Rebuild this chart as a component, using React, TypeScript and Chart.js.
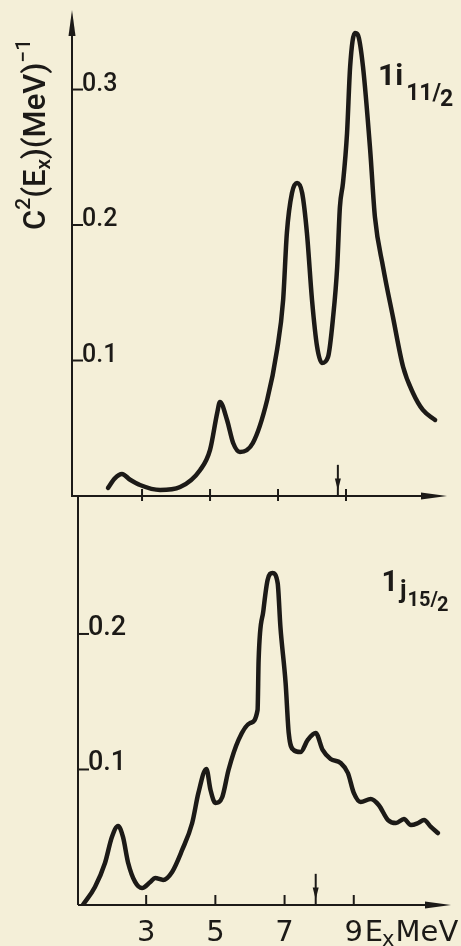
import React, { useEffect, useRef } from "react";
import { Chart, registerables } from "chart.js";

Chart.register(...registerables);

// ---------- data ----------
const topEnergy = [
  2.0, 2.2, 2.41, 2.65, 2.94, 3.53, 4.12, 4.71, 5.0, 5.21, 5.29, 5.5, 5.68, 5.88,
  6.26, 6.68, 6.97, 7.15, 7.26, 7.41, 7.56, 7.71, 7.85, 8.0, 8.15, 8.29, 8.47,
  8.62, 8.74, 8.82, 8.91, 9.03, 9.12, 9.26, 9.35, 9.5, 9.71, 9.85, 10.09, 10.38,
  10.68, 10.97, 11.26, 11.62,
];
const topStrength = [
  0.006, 0.013, 0.0162, 0.012, 0.0081, 0.0044, 0.0066, 0.0192, 0.034, 0.0613,
  0.0694, 0.0561, 0.0391, 0.0325, 0.0391, 0.0708, 0.1077, 0.1446, 0.1941,
  0.2236, 0.231, 0.2236, 0.1941, 0.1446, 0.11, 0.0982, 0.1026, 0.1321, 0.169,
  0.2133, 0.231, 0.2679, 0.3166, 0.3417, 0.3402, 0.3166, 0.2554, 0.2059, 0.169,
  0.1321, 0.0952, 0.076, 0.0635, 0.0561,
];

const bottomEnergy = [
  1.17, 1.52, 1.81, 2.01, 2.19, 2.33, 2.48, 2.68, 2.88, 3.12, 3.26, 3.49, 3.75,
  4.04, 4.33, 4.51, 4.74, 4.86, 5.0, 5.2, 5.38, 5.67, 6.01, 6.22, 6.25, 6.39,
  6.51, 6.65, 6.8, 6.88, 7.03, 7.12, 7.26, 7.46, 7.67, 7.9, 8.1, 8.33, 8.62,
  8.83, 9.0, 9.2, 9.49, 9.72, 9.99, 10.22, 10.45, 10.65, 10.86, 11.03, 11.23,
  11.43,
];
const bottomStrength = [
  0.0, 0.0133, 0.031, 0.0502, 0.0583, 0.0502, 0.031, 0.017, 0.0125, 0.017,
  0.0199, 0.0185, 0.0244, 0.0406, 0.0605, 0.0827, 0.1004, 0.0849, 0.0753,
  0.0797, 0.0996, 0.1218, 0.1343, 0.1439, 0.1808, 0.2177, 0.2399, 0.245,
  0.2376, 0.2052, 0.1638, 0.1269, 0.1144, 0.1129, 0.1218, 0.1269, 0.1144,
  0.1077, 0.1048, 0.0974, 0.0827, 0.076, 0.0782, 0.0738, 0.0627, 0.0605,
  0.0635, 0.059, 0.0605, 0.0627, 0.0576, 0.0531,
];

const topYTicks = [0.1, 0.2, 0.3];
const topYTickLabels = ["0.1", "0.2", "0.3"];
const bottomYTicks = [0.1, 0.2];
const bottomYTickLabels = ["0.1", "0.2"];
const xTicks = [3, 5, 7, 9];
const xTickLabels = ["3", "5", "7", "9"];
const xAxisName = "E";
const xAxisSub = "x";
const xAxisUnit = "MeV";
const topMarkerEnergy = 8.76;
const bottomMarkerEnergy = 7.9;
const topLevel = ["1", "i", "11/", "2"];
const bottomLevel = ["1", "j", "15/", "2"];
const yTitleParts = ["C", "2", "(E", "x", ")(MeV)", "\u22121"];

// ---------- styling ----------
const BG = "#f4efd8";
const INK = "#1c1a17";
const TICK_FONT = "Roboto, 'DejaVu Sans', sans-serif";
const XLAB_FONT = "'DejaVu Sans', Roboto, sans-serif";

type Panel = {
  name: string;
  E: number[];
  C: number[];
  xMin: number;
  xMax: number;
  yMax: number;
  padding: { left: number; right: number; top: number; bottom: number };
  yTicks: number[];
  yTickLabels: string[];
  tickFontSize: number;
  marker: number;
  level: string[];
  levelPos: [number, number]; // data coords of the label start
  isTop: boolean;
};

function arrowHead(
  ctx: CanvasRenderingContext2D,
  tipX: number,
  tipY: number,
  dx: number,
  dy: number,
  len: number,
  half: number
) {
  const bx = tipX - dx * len;
  const by = tipY - dy * len;
  const px = -dy;
  const py = dx;
  ctx.beginPath();
  ctx.moveTo(tipX, tipY);
  ctx.lineTo(bx + px * half, by + py * half);
  ctx.lineTo(bx - px * half, by - py * half);
  ctx.closePath();
  ctx.fill();
}

function decor(p: Panel) {
  return {
    id: "decor-" + p.name,
    afterDraw(chart: any) {
      const ctx: CanvasRenderingContext2D = chart.ctx;
      const xs = chart.scales.x;
      const ys = chart.scales.y;
      const area = chart.chartArea;
      ctx.save();
      ctx.strokeStyle = INK;
      ctx.fillStyle = INK;
      ctx.lineWidth = 2;
      ctx.lineCap = "butt";

      const x0 = area.left;
      const yZero = ys.getPixelForValue(0);

      // y axis
      ctx.beginPath();
      ctx.moveTo(x0, area.bottom + (p.isTop ? 1 : 0));
      ctx.lineTo(x0, area.top + (p.isTop ? 8 : 0));
      ctx.stroke();
      if (p.isTop) arrowHead(ctx, x0, area.top, 0, -1, 26, 3.5);

      // x axis
      ctx.beginPath();
      ctx.moveTo(x0, yZero);
      ctx.lineTo(area.right - 8, yZero);
      ctx.stroke();
      arrowHead(ctx, area.right, yZero, 1, 0, 26, 3.5);

      // x ticks
      xTicks.forEach((t) => {
        const px = xs.getPixelForValue(t);
        ctx.beginPath();
        if (p.isTop) {
          ctx.moveTo(px, yZero - 7);
          ctx.lineTo(px, yZero + 5);
        } else {
          ctx.moveTo(px, yZero - 10);
          ctx.lineTo(px, yZero);
        }
        ctx.stroke();
      });

      // y ticks + labels
      ctx.font = "500 " + p.tickFontSize + "px " + TICK_FONT;
      ctx.textAlign = "left";
      ctx.textBaseline = "alphabetic";
      p.yTicks.forEach((t, i) => {
        const py = ys.getPixelForValue(t);
        ctx.beginPath();
        ctx.moveTo(x0, py);
        ctx.lineTo(x0 + 11, py);
        ctx.stroke();
        ctx.fillText(p.yTickLabels[i], x0 + 10, py + 1);
      });

      // marker arrow (pointing down to the axis)
      const mx = xs.getPixelForValue(p.marker);
      const mTop = ys.getPixelForValue(0.023);
      const mTip = ys.getPixelForValue(0.004);
      ctx.beginPath();
      ctx.moveTo(mx, mTop);
      ctx.lineTo(mx, yZero);
      ctx.stroke();
      arrowHead(ctx, mx, mTip, 0, 1, 12, 3);

      // level label
      const lx = xs.getPixelForValue(p.levelPos[0]);
      const ly = ys.getPixelForValue(p.levelPos[1]);
      ctx.textAlign = "left";
      if (p.isTop) {
        ctx.font = "bold 30px " + TICK_FONT;
        ctx.fillText(p.level[0] + p.level[1], lx, ly);
        let cx = lx + ctx.measureText(p.level[0] + p.level[1]).width + 3;
        ctx.font = "bold 23px " + TICK_FONT;
        ctx.fillText(p.level[2], cx, ly + 15);
        cx += ctx.measureText(p.level[2]).width - 1;
        ctx.fillText(p.level[3], cx, ly + 21);
      } else {
        ctx.font = "bold 29px " + TICK_FONT;
        ctx.fillText(p.level[0], lx, ly);
        let cx = lx + ctx.measureText(p.level[0]).width + 2;
        ctx.font = "bold 25px " + TICK_FONT;
        ctx.fillText(p.level[1], cx, ly + 7);
        cx += ctx.measureText(p.level[1]).width + 1;
        ctx.font = "bold 20px " + TICK_FONT;
        ctx.fillText(p.level[2], cx, ly + 15);
        cx += ctx.measureText(p.level[2]).width - 1;
        ctx.fillText(p.level[3], cx, ly + 20);
      }

      if (p.isTop) {
        // rotated y title
        ctx.save();
        ctx.translate(45, 230);
        ctx.rotate(-Math.PI / 2);
        const big = "500 31px " + TICK_FONT;
        const small = "500 21px " + TICK_FONT;
        let cx = 0;
        const seq: [string, string, number][] = [
          [yTitleParts[0], big, 0],
          [yTitleParts[1], small, -15],
          [yTitleParts[2], big, 0],
          [yTitleParts[3], small, 5],
          [yTitleParts[4], big, 0],
          [yTitleParts[5], small, -15],
        ];
        seq.forEach(([t, f, dy]) => {
          ctx.font = f;
          ctx.fillText(t, cx, dy);
          cx += ctx.measureText(t).width;
        });
        ctx.restore();
      } else {
        // x tick labels + axis name
        const baseY = yZero + 36;
        ctx.font = "29px " + XLAB_FONT;
        ctx.textAlign = "center";
        let last = 0;
        xTicks.forEach((t, i) => {
          const px = xs.getPixelForValue(t);
          ctx.fillText(xTickLabels[i], px, baseY);
          last = px;
        });
        ctx.textAlign = "left";
        let cx = last + 11;
        ctx.fillText(xAxisName, cx, baseY);
        cx += ctx.measureText(xAxisName).width - 1;
        ctx.font = "21px " + XLAB_FONT;
        ctx.fillText(xAxisSub, cx, baseY + 5);
        cx += ctx.measureText(xAxisSub).width + 1;
        ctx.font = "29px " + XLAB_FONT;
        ctx.fillText(xAxisUnit, cx, baseY);
      }
      ctx.restore();
    },
  };
}

function makeConfig(p: Panel): any {
  return {
    type: "line",
    data: {
      datasets: [
        {
          data: p.E.map((e, i) => ({ x: e, y: p.C[i] })),
          borderColor: INK,
          borderWidth: 4.5,
          pointRadius: 0,
          fill: false,
          cubicInterpolationMode: "monotone",
          borderCapStyle: "round",
          borderJoinStyle: "round",
        },
      ],
    },
    options: {
      responsive: false,
      animation: false,
      devicePixelRatio: 1,
      events: [],
      layout: { padding: p.padding },
      plugins: {
        legend: { display: false },
        tooltip: { enabled: false },
        title: { display: false },
      },
      scales: {
        x: { type: "linear", min: p.xMin, max: p.xMax, display: false },
        y: { type: "linear", min: 0, max: p.yMax, display: false },
      },
    },
    plugins: [decor(p)],
  };
}

const topPanel: Panel = {
  name: "top",
  E: topEnergy,
  C: topStrength,
  xMin: 0.94,
  xMax: 11.97,
  yMax: 0.3587,
  padding: { left: 72, right: 14, top: 10, bottom: 14 },
  yTicks: topYTicks,
  yTickLabels: topYTickLabels,
  tickFontSize: 25,
  marker: topMarkerEnergy,
  level: topLevel,
  levelPos: [9.94, 0.303],
  isTop: true,
};

const bottomPanel: Panel = {
  name: "bottom",
  E: bottomEnergy,
  C: bottomStrength,
  xMin: 1.03,
  xMax: 11.81,
  yMax: 0.3018,
  padding: { left: 78, right: 10, top: 16, bottom: 41 },
  yTicks: bottomYTicks,
  yTickLabels: bottomYTickLabels,
  tickFontSize: 27,
  marker: bottomMarkerEnergy,
  level: bottomLevel,
  levelPos: [9.8, 0.232],
  isTop: false,
};

export default function App() {
  const topRef = useRef<HTMLCanvasElement>(null);
  const botRef = useRef<HTMLCanvasElement>(null);
  useEffect(() => {
    document.body.style.margin = "0";
    document.body.style.background = BG;
    const c1 = new Chart(topRef.current as HTMLCanvasElement, makeConfig(topPanel));
    const c2 = new Chart(botRef.current as HTMLCanvasElement, makeConfig(bottomPanel));
    return () => {
      c1.destroy();
      c2.destroy();
    };
  }, []);
  return (
    <div
      style={{
        position: "absolute",
        left: 0,
        top: 0,
        width: 461,
        height: 946,
        background: BG,
        overflow: "hidden",
      }}
    >
      <canvas
        ref={topRef}
        width={461}
        height={510}
        style={{ position: "absolute", left: 0, top: 0, width: 461, height: 510 }}
      />
      <canvas
        ref={botRef}
        width={461}
        height={466}
        style={{ position: "absolute", left: 0, top: 480, width: 461, height: 466 }}
      />
    </div>
  );
}
